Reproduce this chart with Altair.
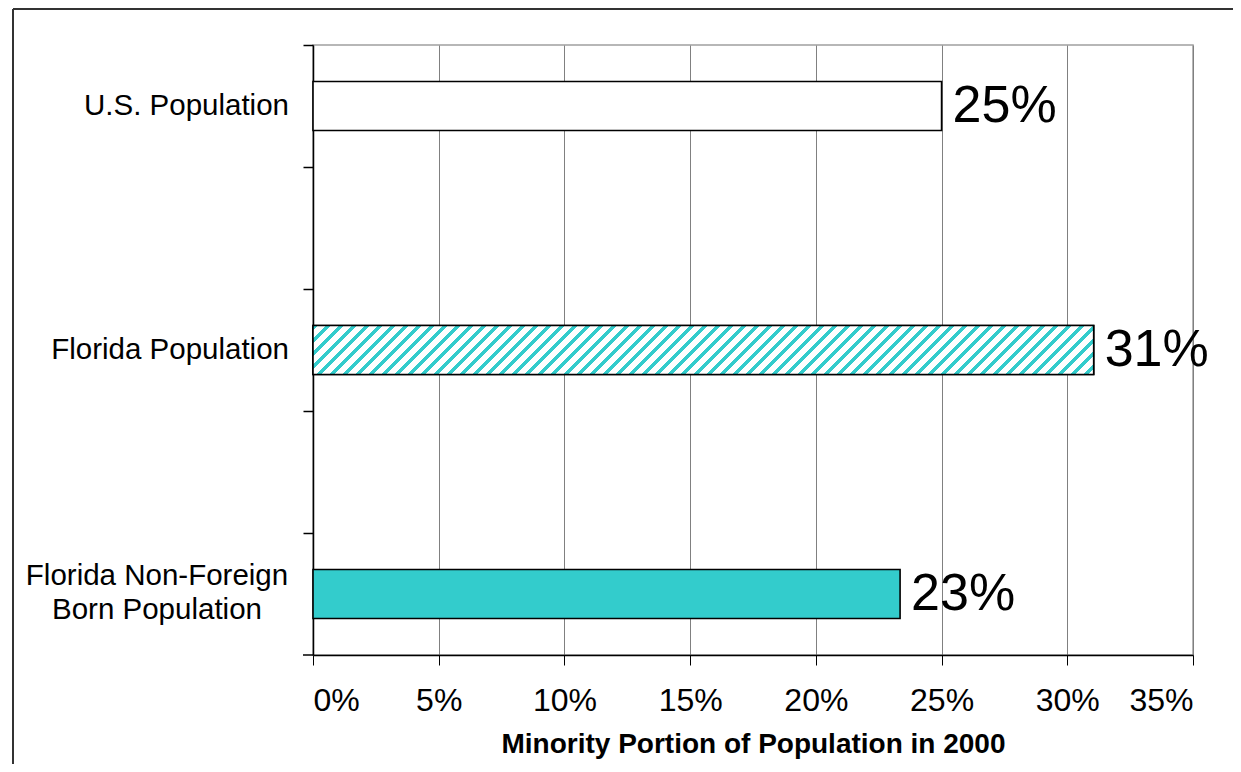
import math
import altair as alt
import pandas as pd

# ---- data ----
categories = ["U.S. Population", "Florida Population", "Florida Non-Foreign Born Population"]
y_labels = ["U.S. Population", "Florida Population", "Florida Non-Foreign\nBorn Population"]
values = [25.0, 31.05, 23.35]
value_labels = ["25%", "31%", "23%"]
x_ticks = [0, 5, 10, 15, 20, 25, 30, 35]
x_max = 35

# band layout: each category separated by an empty band (as in the original)
y_domain = [categories[0], "gap1", categories[1], "gap2", categories[2]]

df = pd.DataFrame({"cat": categories, "value": values, "label": value_labels, "ylab": y_labels})

FONT = "Liberation Sans"
TEAL = "#33CCCC"
PLOT_W, PLOT_H = 880, 610
BAR_H = 49

# ---- diagonal hatch fill built as a striped linear gradient ----
W = values[1] / x_max * PLOT_W
s = 1.2
ratio = BAR_H / W
period_px = 13.0
frac = 0.42
dt = period_px / (W * s * (1 + ratio ** 2))
n = int(math.ceil(1 / dt))
stops = []
for k in range(n):
    a = round(min(k * dt, 1.0), 5)
    b = round(min((k + frac) * dt, 1.0), 5)
    c = round(min((k + 1) * dt, 1.0), 5)
    stops += [
        {"offset": a, "color": TEAL},
        {"offset": b, "color": TEAL},
        {"offset": b, "color": "white"},
        {"offset": c, "color": "white"},
    ]
hatch = alt.LinearGradient(gradient="linear", x1=0, y1=0, x2=s, y2=round(s * ratio, 5), stops=stops)

x_enc = alt.X(
    "value:Q",
    scale=alt.Scale(domain=[0, x_max], nice=False, zero=True),
    axis=alt.Axis(
        values=x_ticks,
        labelExpr="datum.value + '%'",
        title="Minority Portion of Population in 2000",
        titleFont=FONT,
        titleFontSize=28,
        titleFontWeight="bold",
        titleColor="black",
        titlePadding=14,
        labelFont=FONT,
        labelFontSize=32,
        labelColor="black",
        labelPadding=20,
        tickSize=10,
        tickColor="black",
        domainColor="black",
        domainWidth=1.5,
        grid=True,
        gridColor="#808080",
        gridWidth=1,
    ),
)

y_enc = alt.Y(
    "cat:N",
    scale=alt.Scale(domain=y_domain, paddingInner=0, paddingOuter=0),
    axis=alt.Axis(
        title=None,
        labels=False,
        bandPosition=0,
        tickSize=10,
        tickColor="black",
        tickWidth=1.5,
        domainColor="black",
        domainWidth=1.5,
        grid=False,
    ),
)

base = alt.Chart(df).encode(x=x_enc, y=y_enc)

bars = base.mark_bar(size=BAR_H, stroke="black", strokeWidth=1.6).encode(
    fill=alt.Fill("cat:N", scale=alt.Scale(domain=categories, range=["white", "white", TEAL]), legend=None),
)

hatched = base.transform_filter(
    alt.datum.cat == categories[1]
).mark_bar(size=BAR_H, stroke="black", strokeWidth=1.6, fill=hatch)

texts = base.mark_text(
    align="left", baseline="middle", dx=11, font=FONT, fontSize=52, color="black"
).encode(text="label:N")

# category labels (right-aligned single lines, centred two-line label)
ylab_right = alt.Chart(df).transform_filter(
    alt.datum.cat != categories[2]
).mark_text(align="right", baseline="middle", font=FONT, fontSize=29.5, color="black").encode(
    y=alt.Y("cat:N"), x=alt.value(-24), text="ylab:N"
)
ylab_center = alt.Chart(df).transform_filter(
    alt.datum.cat == categories[2]
).mark_text(
    align="center", baseline="middle", font=FONT, fontSize=29.5, color="black",
    lineBreak="\n", lineHeight=34, dy=-18
).encode(
    y=alt.Y("cat:N"), x=alt.value(-156), text="ylab:N"
)

# closing tick at the bottom end of the category axis
bottom_tick = alt.Chart(alt.Data(values=[{}])).mark_rule(color="black", strokeWidth=1.5).encode(
    x=alt.value(-10), x2=alt.value(0), y=alt.value(PLOT_H)
)

# outer frame of the picture (top and left edges are the visible ones)
frame_top = alt.Chart(alt.Data(values=[{}])).mark_rule(color="#333333", strokeWidth=2).encode(
    x=alt.value(-300), x2=alt.value(1000), y=alt.value(-36)
)
frame_left = alt.Chart(alt.Data(values=[{}])).mark_rule(color="#333333", strokeWidth=2).encode(
    x=alt.value(-300), y=alt.value(-36), y2=alt.value(800)
)

chart = alt.layer(
    bars, hatched, texts, ylab_right, ylab_center, bottom_tick, frame_top, frame_left
).properties(
    width=PLOT_W,
    height=PLOT_H,
    autosize=alt.AutoSizeParams(type="none"),
    padding={"left": 305, "top": 37, "right": 40, "bottom": 109},
).configure(background="white").configure_view(
    stroke="#a0a0a0", strokeWidth=1.5
)

chart.save("out.html", embed_options={"renderer": "svg", "actions": False})
